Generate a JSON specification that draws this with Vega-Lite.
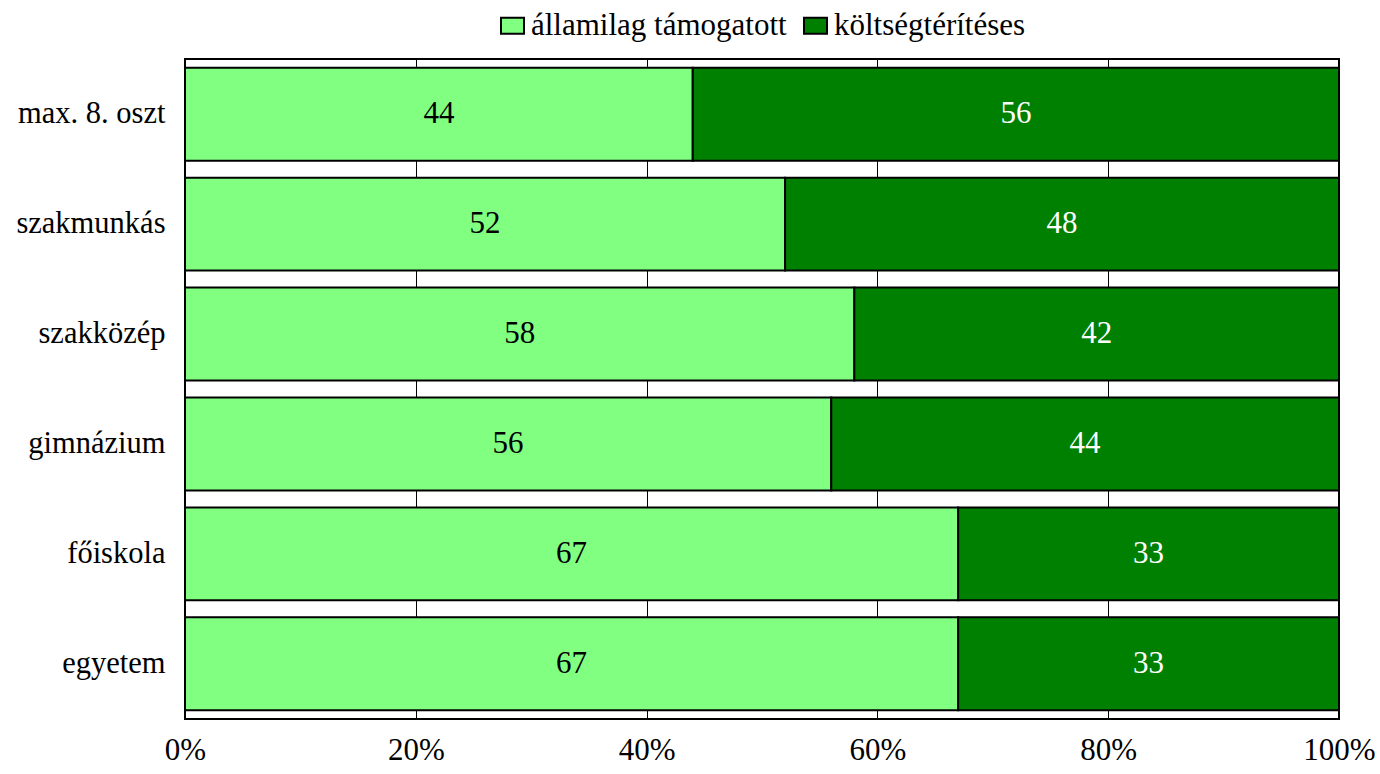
{
  "$schema": "https://vega.github.io/schema/vega-lite/v6.json",
  "autosize": {"type": "none"},
  "padding": {"left": 185, "top": 59, "right": 41, "bottom": 55},
  "width": 1154,
  "height": 660,
  "background": "white",
  "config": {
    "font": "'Liberation Serif', 'DejaVu Serif', serif",
    "view": {"stroke": "black", "strokeWidth": 2},
    "axis": {"labelFont": "'Liberation Serif', 'DejaVu Serif', serif", "labelColor": "black"},
    "legend": {"labelFont": "'Liberation Serif', 'DejaVu Serif', serif", "labelColor": "black"},
    "text": {"font": "'Liberation Serif', 'DejaVu Serif', serif"}
  },
  "data": {
    "values": [
      {"cat": "max. 8. oszt", "series": "államilag támogatott", "value": 44},
      {"cat": "max. 8. oszt", "series": "költségtérítéses", "value": 56},
      {"cat": "szakmunkás", "series": "államilag támogatott", "value": 52},
      {"cat": "szakmunkás", "series": "költségtérítéses", "value": 48},
      {"cat": "szakközép", "series": "államilag támogatott", "value": 58},
      {"cat": "szakközép", "series": "költségtérítéses", "value": 42},
      {"cat": "gimnázium", "series": "államilag támogatott", "value": 56},
      {"cat": "gimnázium", "series": "költségtérítéses", "value": 44},
      {"cat": "főiskola", "series": "államilag támogatott", "value": 67},
      {"cat": "főiskola", "series": "költségtérítéses", "value": 33},
      {"cat": "egyetem", "series": "államilag támogatott", "value": 67},
      {"cat": "egyetem", "series": "költségtérítéses", "value": 33}
    ]
  },
  "encoding": {
    "y": {
      "field": "cat",
      "type": "nominal",
      "sort": ["max. 8. oszt", "szakmunkás", "szakközép", "gimnázium", "főiskola", "egyetem"],
      "scale": {"paddingInner": 0.155, "paddingOuter": 0.08},
      "axis": {"title": null, "ticks": false, "domain": false, "labelFontSize": 30.5, "labelPadding": 20, "labelLimit": 0}
    }
  },
  "layer": [
    {
      "mark": {"type": "bar", "stroke": "black", "strokeWidth": 2},
      "encoding": {
        "x": {
          "field": "value",
          "type": "quantitative",
          "stack": "zero",
          "scale": {"domain": [0, 100], "nice": false},
          "axis": {
            "title": null,
            "values": [0, 20, 40, 60, 80, 100],
            "labelExpr": "datum.value + '%'",
            "labelFontSize": 31,
            "labelPadding": 16,
            "labelFlush": false,
            "labelOverlap": false,
            "ticks": false,
            "domain": false,
            "grid": true,
            "gridColor": "black",
            "gridWidth": 1,
            "gridOpacity": 1
          }
        },
        "color": {
          "field": "series",
          "type": "nominal",
          "scale": {"domain": ["államilag támogatott", "költségtérítéses"], "range": ["#80FF80", "#008000"]},
          "legend": {
            "title": null,
            "orient": "none",
            "legendX": 312,
            "legendY": -49,
            "direction": "horizontal",
            "labelFontSize": 31,
            "labelOffset": 3,
            "labelLimit": 0,
            "columnPadding": 13,
            "symbolType": "M-1,-0.7H1V0.7H-1Z",
            "symbolSize": 529,
            "symbolStrokeColor": "black",
            "symbolStrokeWidth": 2,
            "symbolOpacity": 1
          }
        },
        "order": {"field": "series", "sort": "descending"}
      }
    },
    {
      "transform": [
        {"stack": "value", "groupby": ["cat"], "sort": [{"field": "series", "order": "descending"}], "as": ["s0", "s1"]},
        {"fold": ["s0", "s1"], "as": ["k", "pos"]},
        {"aggregate": [{"op": "mean", "field": "pos", "as": "mid"}], "groupby": ["cat", "series", "value"]}
      ],
      "mark": {"type": "text", "fontSize": 31, "baseline": "middle", "align": "center"},
      "encoding": {
        "x": {"field": "mid", "type": "quantitative"},
        "text": {"field": "value", "type": "quantitative"},
        "color": {
          "condition": {"test": "datum.series === 'költségtérítéses'", "value": "white"},
          "value": "black"
        }
      }
    }
  ]
}
